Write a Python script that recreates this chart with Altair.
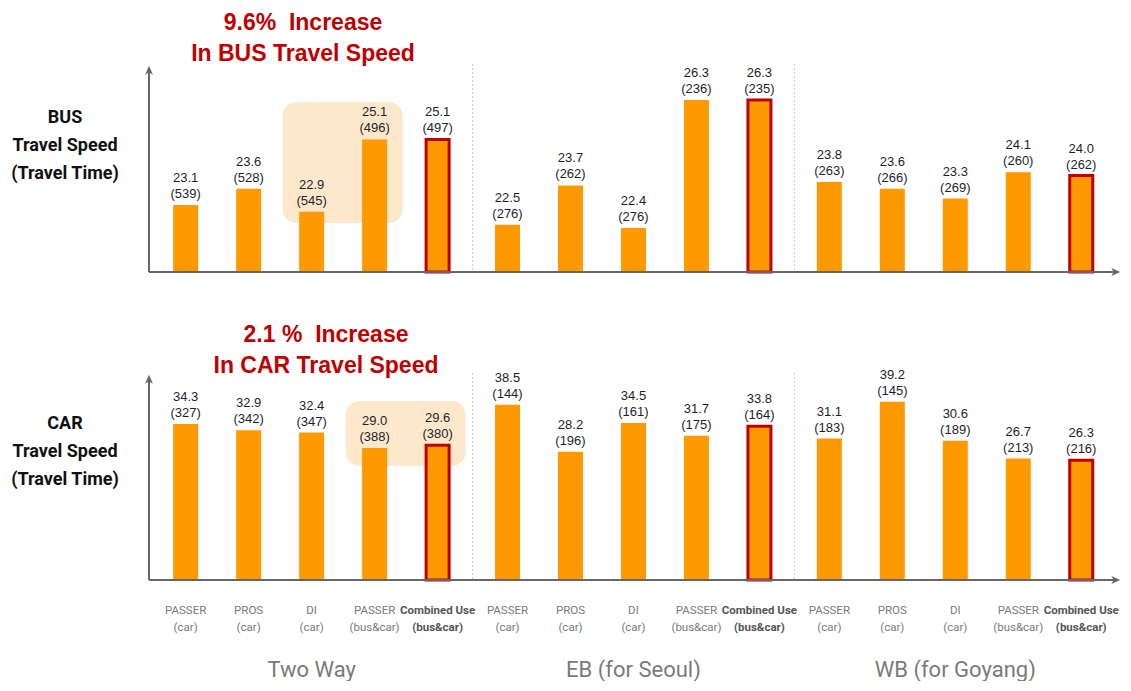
import altair as alt
import pandas as pd

# ---------------- data ----------------
groups = ["Two Way", "EB (for Seoul)", "WB (for Goyang)"]
methods = ["PASSER\n(car)", "PROS\n(car)", "DI\n(car)", "PASSER\n(bus&car)", "Combined Use\n(bus&car)"]
combined_method = "Combined Use\n(bus&car)"

bus_speed = [23.1, 23.6, 22.9, 25.1, 25.1, 22.5, 23.7, 22.4, 26.3, 26.3, 23.8, 23.6, 23.3, 24.1, 24.0]
bus_time = [539, 528, 545, 496, 497, 276, 262, 276, 236, 235, 263, 266, 269, 260, 262]
car_speed = [34.3, 32.9, 32.4, 29.0, 29.6, 38.5, 28.2, 34.5, 31.7, 33.8, 31.1, 39.2, 30.6, 26.7, 26.3]
car_time = [327, 342, 347, 388, 380, 144, 196, 161, 175, 164, 183, 145, 189, 213, 216]

bus_title = "9.6%\u00a0\u00a0Increase\nIn BUS Travel Speed"
car_title = "2.1 %\u00a0\u00a0Increase\nIn CAR Travel Speed"
bus_side = "BUS\nTravel Speed\n(Travel Time)"
car_side = "CAR\nTravel Speed\n(Travel Time)"

bus_highlight = [2, 3]   # bars inside the shaded box
car_highlight = [3, 4]

# ---------------- style ----------------
ORANGE = "#FF9900"
RED = "#C00000"
SHADE = "#FDE8CC"
AXIS = "#666666"
NARROW = "Roboto, sans-serif"
W = 970
GROUP_GAP = 0.11   # extra space between groups, in bar steps

rows = []
for gi, g in enumerate(groups):
    for mi, m in enumerate(methods):
        i = gi * len(methods) + mi
        rows.append(dict(idx=i, pos=i + gi * GROUP_GAP, group=g, method=m,
                         combined=bool(m == combined_method),
                         bus=bus_speed[i], bus_t=bus_time[i],
                         car=car_speed[i], car_t=car_time[i]))
df = pd.DataFrame(rows)
df["bus_label"] = [f"{s:.1f}\n({t})" for s, t in zip(df.bus, df.bus_t)]
df["car_label"] = [f"{s:.1f}\n({t})" for s, t in zip(df.car, df.car_t)]

seps = pd.DataFrame({"pos": [(df[df.group == a].pos.max() + df[df.group == b].pos.min()) / 2
                             for a, b in zip(groups[:-1], groups[1:])]})
gcent = df.groupby("group", sort=False).pos.mean().reset_index()
gcent.columns = ["group", "cx"]

xscale = alt.Scale(domain=[-0.503, 14.74], nice=False, zero=False)
ARROW = "M0,-1 L0.75,0.7 L0,0.25 L-0.75,0.7 Z"


def panel(col, ydom, height, highlight, hl_y, title, side, side_y, title_x, title_y):
    yscale = alt.Scale(domain=ydom, zero=False, nice=False, clamp=True)
    x = alt.X("pos:Q", scale=xscale, axis=None)
    y = alt.Y(f"{col}:Q", scale=yscale, axis=None)

    hl = pd.DataFrame({"x0": [df.pos[highlight[0]]], "x1": [df.pos[highlight[1]]],
                       "t": [title], "s": [side]})

    shade = alt.Chart(hl).mark_rect(color=SHADE, cornerRadius=14, xOffset=-29, x2Offset=28).encode(
        x=alt.X("x0:Q", scale=xscale, axis=None), x2="x1:Q",
        y=alt.value(hl_y[0]), y2=alt.value(hl_y[1]))

    sep = alt.Chart(seps).mark_rule(color="#cfcfcf", strokeDash=[2, 2], strokeWidth=1).encode(
        x=alt.X("pos:Q", scale=xscale, axis=None), y=alt.value(0), y2=alt.value(height))

    bars = alt.Chart(df).mark_bar(size=25, color=ORANGE).encode(
        x=x, y=y, y2=alt.value(height))
    combo = alt.Chart(df).transform_filter("datum.combined").mark_bar(
        size=23, fill=ORANGE, stroke=RED, strokeWidth=3).encode(x=x, y=y, y2=alt.value(height + 1))

    labels = alt.Chart(df).mark_text(baseline="bottom", dy=-20, lineBreak="\n", fontSize=13,
                                     lineHeight=16, font="Liberation Sans, Arial, sans-serif",
                                     color="#1b1f2e").encode(
        x=x, y=y, text=f"{col}_label:N")

    yaxis = alt.Chart(hl).mark_rule(color=AXIS, strokeWidth=2).encode(
        x=alt.value(0), y=alt.value(4), y2=alt.value(height))
    xaxis = alt.Chart(hl).mark_rule(color=AXIS, strokeWidth=2).encode(
        x=alt.value(0), x2=alt.value(W - 4), y=alt.value(height))
    up = alt.Chart(hl).mark_point(shape=ARROW, filled=True, color=AXIS, size=110, opacity=1).encode(
        x=alt.value(0), y=alt.value(7))
    right = alt.Chart(hl).mark_point(shape=ARROW, filled=True, color=AXIS, size=110, angle=90,
                                     opacity=1).encode(x=alt.value(W - 4), y=alt.value(height))

    ttl = alt.Chart(hl).mark_text(fontSize=23, fontWeight="bold", color=RED, lineHeight=31,
                                  lineBreak="\n", font="Liberation Sans, Arial, sans-serif",
                                  baseline="middle").encode(
        x=alt.value(title_x), y=alt.value(title_y), text="t:N")
    sd = alt.Chart(hl).mark_text(fontSize=18, fontWeight="bold", color="#111111", lineHeight=28,
                                 lineBreak="\n", font=NARROW, baseline="middle").encode(
        x=alt.value(-84), y=alt.value(side_y), text="s:N")

    return [shade, sep, bars, combo, labels, yaxis, xaxis, up, right, ttl, sd]


BUS_H = 208
CAR_H = 207
top_layers = panel("bus", [21.06, 27.4], BUS_H, bus_highlight, (38, 159), bus_title, bus_side, 54, 154, -41)
bot_layers = panel("car", [0, 45.5], CAR_H, car_highlight, (28, 93), car_title, car_side, 51, 177, -38)

xl = alt.X("pos:Q", scale=xscale, axis=None)
xlab = alt.Chart(df).transform_filter("!datum.combined").mark_text(
    fontSize=11.5, lineHeight=17, lineBreak="\n", font=NARROW, color="#7a7a7a", baseline="middle").encode(
    x=xl, y=alt.value(CAR_H + 31), text="method:N")
xlab_b = alt.Chart(df).transform_filter("datum.combined").mark_text(
    fontSize=11.5, lineHeight=17, lineBreak="\n", font=NARROW, color="#555555", fontWeight="bold",
    baseline="middle").encode(x=xl, y=alt.value(CAR_H + 31), text="method:N")
glab = alt.Chart(gcent).mark_text(fontSize=22, font=NARROW, color="#7a7a7a", baseline="middle").encode(
    x=alt.X("cx:Q", scale=xscale, axis=None), y=alt.value(CAR_H + 90), text="group:N")

top = alt.layer(*top_layers).properties(width=W, height=BUS_H)
bottom = alt.layer(*bot_layers, xlab, xlab_b, glab).properties(width=W, height=CAR_H)

chart = alt.vconcat(top, bottom, spacing=48).properties(
    padding={"left": 2, "top": 4, "right": 0, "bottom": 0}, background="white"
).configure_view(stroke=None)

chart.save("out.html", embed_options={"renderer": "svg", "actions": False})
